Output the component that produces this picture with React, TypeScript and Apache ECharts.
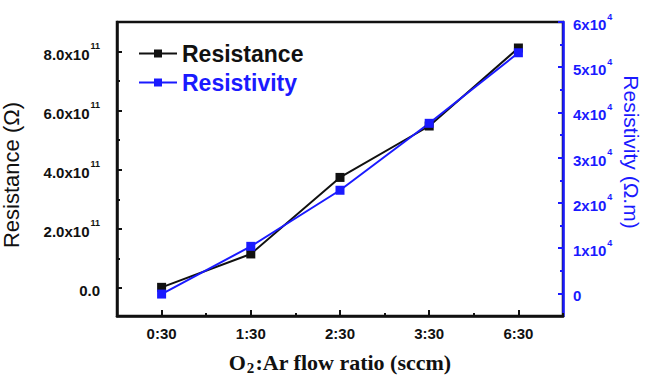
import React, { useEffect, useRef } from 'react';
import * as echarts from 'echarts';

const categories = ['0:30', '1:30', '2:30', '3:30', '6:30'];
const resistance = [0.02e11, 1.15e11, 3.74e11, 5.48e11, 8.12e11];
const resistivity = [-150, 10400, 22800, 37600, 53200];
const leftTicks = [0, 2e11, 4e11, 6e11, 8e11];
const leftMinor = [1e11, 3e11, 5e11, 7e11];
const rightTicks = [0, 1e4, 2e4, 3e4, 4e4, 5e4, 6e4];
const rightMinor = [5000, 15000, 25000, 35000, 45000, 55000];

const BLUE = '#1a1aff';
const BLACK = '#111111';

export default function App() {
  const ref = useRef<HTMLDivElement>(null);
  useEffect(() => {
    const chart = echarts.init(ref.current!, null, { renderer: 'svg' });
    const font = 'Arial, "Liberation Sans", sans-serif';
    const serif = '"Liberation Serif", "Times New Roman", serif';
    const leftMin = -0.95e11, leftMax = 9.0e11;
    const rightMin = -5000, rightMax = 60000;
    chart.setOption({
      animation: false,
      backgroundColor: '#ffffff',
      textStyle: { fontFamily: font },
      grid: {
        left: 117, right: 84, top: 22, bottom: 60,
        containLabel: false, outerBoundsMode: 'none',
        show: true, borderColor: BLACK, borderWidth: 2.5, backgroundColor: 'transparent',
      },
      legend: {
        left: 133, top: 36, orient: 'vertical',
        itemWidth: 38, itemHeight: 10, itemGap: 4,
        textStyle: { fontSize: 23, fontWeight: 'bold', fontFamily: font, lineHeight: 25 },
        data: [
          { name: 'Resistance', textStyle: { color: BLACK } },
          { name: 'Resistivity', textStyle: { color: BLUE } },
        ],
      },
      xAxis: [
        {
          type: 'category', data: categories, boundaryGap: true, position: 'bottom',
          axisLine: { onZero: false, lineStyle: { color: BLACK, width: 2.5 } },
          axisTick: { show: true, alignWithLabel: true, inside: true, length: 6, lineStyle: { color: BLACK, width: 2 } },
          axisLabel: { color: BLACK, fontSize: 15, fontWeight: 'bold', margin: 10 },
          name: '{a|O}{s|2}{a|:Ar flow ratio (sccm)}',
          nameLocation: 'middle', nameGap: 35,
          nameTextStyle: {
            rich: {
              a: { fontSize: 22, fontWeight: 'bold', fontFamily: serif, color: BLACK, lineHeight: 22, verticalAlign: 'bottom' },
              s: { fontSize: 15, fontWeight: 'bold', fontFamily: serif, color: BLACK, lineHeight: 22, verticalAlign: 'bottom', padding: [0, 1, -2, 1] },
            },
          },
        },
        {
          type: 'category', data: categories, boundaryGap: true, position: 'bottom',
          axisLine: { show: false, onZero: false },
          axisTick: { show: true, inside: true, length: 3, lineStyle: { color: BLACK, width: 2 } },
          axisLabel: { show: false },
        },
      ],
      yAxis: [
        {
          type: 'value', position: 'left', min: leftMin, max: leftMax,
          axisLine: { show: true, onZero: false, lineStyle: { color: BLACK, width: 2.5 } },
          axisTick: { show: true, inside: true, length: 5, customValues: leftTicks, lineStyle: { color: BLACK, width: 2 } },
          axisLabel: {
            customValues: leftTicks, margin: 17, color: BLACK,
            formatter: (v: number) => v === 0 ? '{b|0.0}' : `{b|${(v / 1e11).toFixed(1)}x10}{sup|11}`,
            rich: {
              b: { fontSize: 15, fontWeight: 'bold', color: BLACK, lineHeight: 20, verticalAlign: 'bottom' },
              sup: { fontSize: 9, fontWeight: 'bold', color: BLACK, lineHeight: 20, verticalAlign: 'top', padding: [0, 0, 0, 1] },
            },
          },
          splitLine: { show: false },
          name: 'Resistance (Ω)', nameLocation: 'middle', nameGap: 95,
          nameTextStyle: { fontSize: 22, color: BLACK, fontFamily: font, padding: [0, 12, 0, 0] },
        },
        {
          type: 'value', position: 'left', min: leftMin, max: leftMax,
          axisLine: { show: false, onZero: false },
          axisTick: { show: true, inside: true, length: 3, customValues: leftMinor, lineStyle: { color: BLACK, width: 2 } },
          axisLabel: { show: false },
          splitLine: { show: false },
        },
        {
          type: 'value', position: 'right', min: rightMin, max: rightMax,
          axisLine: { show: true, onZero: false, lineStyle: { color: BLUE, width: 2.5 } },
          axisTick: { show: true, inside: true, length: 5, customValues: rightTicks, lineStyle: { color: BLUE, width: 2 } },
          axisLabel: {
            customValues: rightTicks, margin: 10, color: BLUE,
            formatter: (v: number) => v === 0 ? '{b|0}' : `{b|${Math.round(v / 1e4)}x10}{sup|4}`,
            rich: {
              b: { fontSize: 15, fontWeight: 'bold', color: BLUE, lineHeight: 20, verticalAlign: 'bottom' },
              sup: { fontSize: 9, fontWeight: 'bold', color: BLUE, lineHeight: 20, verticalAlign: 'top', padding: [0, 0, 0, 1] },
            },
          },
          splitLine: { show: false },
        },
        {
          type: 'value', position: 'right', min: rightMin, max: rightMax,
          axisLine: { show: false, onZero: false },
          axisTick: { show: true, inside: true, length: 3, customValues: rightMinor, lineStyle: { color: BLUE, width: 2 } },
          axisLabel: { show: false },
          splitLine: { show: false },
        },
      ],
      graphic: [
        {
          type: 'text', x: 631, y: 152, rotation: -Math.PI / 2,
          style: { text: 'Resistivity (Ω.m)', fontSize: 21, fill: BLUE, fontFamily: font, align: 'center', verticalAlign: 'middle' },
        },
      ],
      series: [
        {
          name: 'Resistance', type: 'line', xAxisIndex: 0, yAxisIndex: 0, data: resistance,
          symbol: 'rect', symbolSize: 9,
          lineStyle: { color: BLACK, width: 2 }, itemStyle: { color: BLACK },
        },
        {
          name: 'Resistivity', type: 'line', xAxisIndex: 0, yAxisIndex: 2, data: resistivity,
          symbol: 'rect', symbolSize: 9,
          lineStyle: { color: BLUE, width: 2 }, itemStyle: { color: BLUE },
        },
      ],
    });
    return () => chart.dispose();
  }, []);
  return <div ref={ref} style={{ width: 647, height: 376, position: 'absolute', left: 0, top: 0 }} />;
}
